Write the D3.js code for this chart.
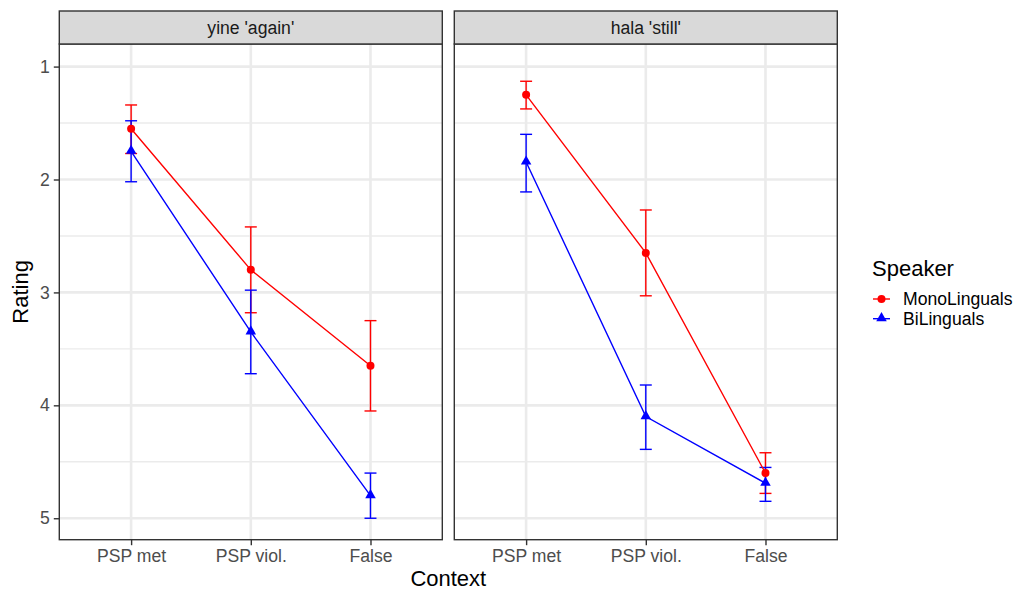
<!DOCTYPE html>
<html>
<head>
<meta charset="utf-8">
<script src="https://cdn.jsdelivr.net/npm/d3@7"></script>
<style>
  body { margin: 0; background: #fff; }
  text { font-family: "Liberation Sans", Arial, sans-serif; }
</style>
</head>
<body>
<div id="chart"></div>
<script>
// Categories and panels
const contexts = ["PSP met", "PSP viol.", "False"];
const panels = ["yine 'again'", "hala 'still'"];
const speakers = ["MonoLinguals", "BiLinguals"];
const yTicks = [1, 2, 3, 4, 5];

// yine 'again'
const yineMonoMean = [1.55, 2.80, 3.65];
const yineMonoLow = [1.34, 2.42, 3.25];
const yineMonoHigh = [1.77, 3.18, 4.05];
const yineBiMean = [1.75, 3.35, 4.80];
const yineBiLow = [1.48, 2.98, 4.60];
const yineBiHigh = [2.02, 3.72, 5.00];

// hala 'still'
const halaMonoMean = [1.25, 2.65, 4.60];
const halaMonoLow = [1.13, 2.27, 4.42];
const halaMonoHigh = [1.375, 3.03, 4.78];
const halaBiMean = [1.845, 4.10, 4.69];
const halaBiLow = [1.60, 3.82, 4.55];
const halaBiHigh = [2.11, 4.39, 4.85];

const colors = { MonoLinguals: "#FF0000", BiLinguals: "#0000FF" };

// Build one row per point
function rows(panel, speaker, mean, low, high) {
  return contexts.map((c, i) => ({
    panel, speaker, context: c, mean: mean[i], low: low[i], high: high[i]
  }));
}
const data = [
  ...rows(panels[0], speakers[0], yineMonoMean, yineMonoLow, yineMonoHigh),
  ...rows(panels[0], speakers[1], yineBiMean, yineBiLow, yineBiHigh),
  ...rows(panels[1], speakers[0], halaMonoMean, halaMonoLow, halaMonoHigh),
  ...rows(panels[1], speakers[1], halaBiMean, halaBiLow, halaBiHigh)
];

// Dimensions
const W = 1019, H = 591;
const marginLeft = 59.3, marginTop = 44, panelW = 383, panelH = 495.7, gap = 12, stripH = 33;

const svg = d3.select("#chart")
  .append("svg")
  .attr("width", W)
  .attr("height", H);

// Scales
const x = d3.scalePoint().domain(contexts).range([0, panelW]).padding(0.6);
const y = d3.scaleLinear().domain([0.8, 5.19]).range([0, panelH]);
const capW = x.step() * 0.1;

const line = d3.line().x((d) => x(d.context)).y((d) => y(d.mean));
const tri = d3.symbol().type(d3.symbolTriangle).size(48);

panels.forEach((p, pi) => {
  const g = svg.append("g")
    .attr("transform", `translate(${marginLeft + pi * (panelW + gap)},${marginTop})`);

  // Panel background
  g.append("rect")
    .attr("width", panelW)
    .attr("height", panelH)
    .attr("fill", "#fff");

  // Minor grid
  const minor = d3.range(1.5, 5.5, 1);
  g.selectAll(".minor")
    .data(minor)
    .enter()
    .append("line")
    .attr("x1", 0).attr("x2", panelW)
    .attr("y1", (d) => y(d)).attr("y2", (d) => y(d))
    .attr("stroke", "#ebebeb")
    .attr("stroke-width", 1.4);

  // Major grid
  g.selectAll(".hmajor")
    .data(yTicks)
    .enter()
    .append("line")
    .attr("x1", 0).attr("x2", panelW)
    .attr("y1", (d) => y(d)).attr("y2", (d) => y(d))
    .attr("stroke", "#ebebeb")
    .attr("stroke-width", 2.6);
  g.selectAll(".vmajor")
    .data(contexts)
    .enter()
    .append("line")
    .attr("y1", 0).attr("y2", panelH)
    .attr("x1", (d) => x(d)).attr("x2", (d) => x(d))
    .attr("stroke", "#ebebeb")
    .attr("stroke-width", 2.6);

  const pd = data.filter((d) => d.panel === p);

  // Error bars
  const eb = g.selectAll(".eb")
    .data(pd)
    .enter()
    .append("g")
    .attr("stroke", (d) => colors[d.speaker])
    .attr("stroke-width", 1.4);
  eb.append("line")
    .attr("x1", (d) => x(d.context)).attr("x2", (d) => x(d.context))
    .attr("y1", (d) => y(d.low)).attr("y2", (d) => y(d.high));
  eb.append("line")
    .attr("x1", (d) => x(d.context) - capW / 2).attr("x2", (d) => x(d.context) + capW / 2)
    .attr("y1", (d) => y(d.low)).attr("y2", (d) => y(d.low));
  eb.append("line")
    .attr("x1", (d) => x(d.context) - capW / 2).attr("x2", (d) => x(d.context) + capW / 2)
    .attr("y1", (d) => y(d.high)).attr("y2", (d) => y(d.high));

  // Lines
  speakers.forEach((s) => {
    g.append("path")
      .datum(pd.filter((d) => d.speaker === s))
      .attr("d", line)
      .attr("fill", "none")
      .attr("stroke", colors[s])
      .attr("stroke-width", 1.4);
  });

  // Points
  g.selectAll(".mono")
    .data(pd.filter((d) => d.speaker === "MonoLinguals"))
    .enter()
    .append("circle")
    .attr("cx", (d) => x(d.context))
    .attr("cy", (d) => y(d.mean))
    .attr("r", 4)
    .attr("fill", colors.MonoLinguals);
  g.selectAll(".bi")
    .data(pd.filter((d) => d.speaker === "BiLinguals"))
    .enter()
    .append("path")
    .attr("d", tri)
    .attr("transform", (d) => `translate(${x(d.context)},${y(d.mean) - 0.5})`)
    .attr("fill", colors.BiLinguals);

  // Panel border
  g.append("rect")
    .attr("width", panelW)
    .attr("height", panelH)
    .attr("fill", "none")
    .attr("stroke", "#333333")
    .attr("stroke-width", 1.4);

  // Strip
  g.append("rect")
    .attr("y", -stripH)
    .attr("width", panelW)
    .attr("height", stripH)
    .attr("fill", "#d9d9d9")
    .attr("stroke", "#333333")
    .attr("stroke-width", 1.4);
  g.append("text")
    .attr("x", panelW / 2)
    .attr("y", -stripH / 2)
    .attr("dy", "0.36em")
    .attr("text-anchor", "middle")
    .attr("font-size", 17.6)
    .attr("fill", "#1a1a1a")
    .text(p);

  // X axis
  const xa = g.append("g")
    .attr("transform", `translate(0,${panelH})`)
    .call(d3.axisBottom(x).tickSize(5.5).tickPadding(4));
  xa.select(".domain").remove();
  xa.selectAll("line").attr("stroke", "#333333").attr("stroke-width", 1.4);
  xa.selectAll("text")
    .attr("font-size", 17.6)
    .attr("font-family", "Liberation Sans, Arial, sans-serif")
    .attr("fill", "#4d4d4d");

  // Y axis only on first panel
  if (pi === 0) {
    const ya = g.append("g")
      .call(d3.axisLeft(y).tickValues(yTicks).tickFormat(d3.format("d")).tickSize(5.5).tickPadding(4));
    ya.select(".domain").remove();
    ya.selectAll("line").attr("stroke", "#333333").attr("stroke-width", 1.4);
    ya.selectAll("text")
      .attr("font-size", 17.6)
      .attr("font-family", "Liberation Sans, Arial, sans-serif")
      .attr("fill", "#4d4d4d");
  }
});

// Axis titles
svg.append("text")
  .attr("x", marginLeft + panelW + gap / 2)
  .attr("y", 586)
  .attr("text-anchor", "middle")
  .attr("font-size", 22)
  .attr("fill", "#000")
  .text("Context");
svg.append("text")
  .attr("transform", `translate(28,${marginTop + panelH / 2}) rotate(-90)`)
  .attr("text-anchor", "middle")
  .attr("font-size", 22)
  .attr("fill", "#000")
  .text("Rating");

// Legend
const legend = svg.append("g").attr("transform", "translate(872,0)");
legend.append("text")
  .attr("x", 0)
  .attr("y", 276)
  .attr("font-size", 22)
  .attr("fill", "#000")
  .text("Speaker");
speakers.forEach((s, i) => {
  const ky = 299 + i * 19.7;
  legend.append("line")
    .attr("x1", 1).attr("x2", 18)
    .attr("y1", ky).attr("y2", ky)
    .attr("stroke", colors[s])
    .attr("stroke-width", 1.4);
  if (s === "MonoLinguals") {
    legend.append("circle").attr("cx", 9.5).attr("cy", ky).attr("r", 4).attr("fill", colors[s]);
  } else {
    legend.append("path").attr("d", tri)
      .attr("transform", `translate(9.5,${ky - 0.5})`).attr("fill", colors[s]);
  }
  legend.append("text")
    .attr("x", 31)
    .attr("y", ky)
    .attr("dy", "0.36em")
    .attr("font-size", 17.6)
    .attr("fill", "#000")
    .text(s);
});
</script>
</body>
</html>
